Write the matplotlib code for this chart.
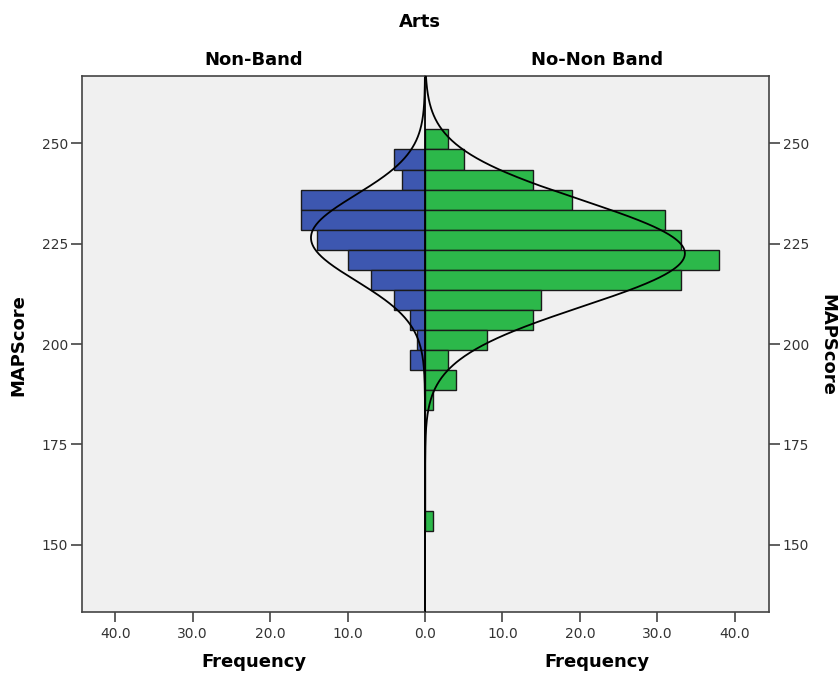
"""Arts: MAPScore population pyramid, Non-Band vs No-Non Band"""
import numpy as np
import matplotlib.pyplot as plt

plt.rcParams["font.family"] = "DejaVu Sans"

# histogram bins (MAPScore, bin width 5)
bin_centers = [251, 246, 241, 236, 231, 226, 221, 216, 211, 206, 201, 196,
               191, 186, 181, 176, 171, 166, 161, 156]
non_band = [0, 4, 3, 16, 16, 14, 10, 7, 4, 2, 1, 2,
            0, 0, 0, 0, 0, 0, 0, 0]
no_non_band = [3, 5, 14, 19, 31, 33, 38, 33, 15, 14, 8, 3,
               4, 1, 0, 0, 0, 0, 0, 1]
bin_width = 5

# normal curve parameters (mean, sd) per group
non_band_fit = (226.5, 10.7)
no_non_band_fit = (222.6, 13.2)

y_ticks = [150, 175, 200, 225, 250]
x_ticks_left = [10, 20, 30, 40]
x_ticks_right = [0, 10, 20, 30, 40]

BLUE = "#3d57b0"
GREEN = "#2cb84a"
FACE = "#f0f0f0"
FRAME = "#444444"
TICKTXT = "#333333"

fig = plt.figure(figsize=(8.4, 6.73), dpi=100)
ax_l = fig.add_axes([0.09762, 0.09064, 0.40833, 0.79643])
ax_r = fig.add_axes([0.50595, 0.09064, 0.40952, 0.79643], sharey=ax_l)

ylim = (133.25, 266.8)
yy = np.linspace(ylim[0], ylim[1], 600)


def normal_curve(counts, fit):
    mu, sd = fit
    n = sum(counts)
    return n * bin_width * np.exp(-0.5 * ((yy - mu) / sd) ** 2) / (sd * np.sqrt(2 * np.pi))


for ax, counts, fit, color, xt in [(ax_l, non_band, non_band_fit, BLUE, x_ticks_left),
                                   (ax_r, no_non_band, no_non_band_fit, GREEN, x_ticks_right)]:
    ax.set_facecolor(FACE)
    ax.barh(bin_centers, counts, height=bin_width, color=color,
            edgecolor="#1a1a1a", linewidth=1.0, zorder=2)
    ax.plot(normal_curve(counts, fit), yy, color="black", linewidth=1.3, zorder=3)
    ax.axvline(0, color="black", linewidth=1.3, zorder=4)
    ax.set_ylim(*ylim)
    ax.set_xticks(xt)
    ax.set_xticklabels([f"{t:.1f}" for t in xt], fontsize=10, color=TICKTXT)
    ax.tick_params(axis="x", direction="out", length=7, width=1.2, color=FRAME, pad=4)
    for s in ax.spines.values():
        s.set_color(FRAME)
        s.set_linewidth(1.2)

ax_l.set_xlim(44.3, 0)
ax_r.set_xlim(0, 44.4)
ax_l.spines["right"].set_visible(False)
ax_r.spines["left"].set_visible(False)

ax_l.set_yticks(y_ticks)
ax_l.set_yticklabels([str(t) for t in y_ticks], fontsize=10, color=TICKTXT)
ax_l.tick_params(axis="y", direction="out", length=8, width=1.2, color=FRAME, pad=2)
ax_r.tick_params(axis="y", which="both", left=False, labelleft=False,
                 right=True, labelright=True, direction="out", length=8,
                 width=1.2, color=FRAME, pad=2, labelsize=10, labelcolor=TICKTXT)

bold = dict(fontsize=13, fontweight="bold", ha="center", va="center")
fig.text(0.5, 0.967, "Arts", **bold)
fig.text(0.302, 0.911, "Non-Band", **bold)
fig.text(0.711, 0.911, "No-Non Band", **bold)
fig.text(0.302, 0.016, "Frequency", **bold)
fig.text(0.711, 0.016, "Frequency", **bold)
fig.text(0.022, 0.487, "MAPScore", rotation=90, **bold)
fig.text(0.985, 0.487, "MAPScore", rotation=-90, **bold)

plt.savefig("out.png", dpi=100)
plt.close()
